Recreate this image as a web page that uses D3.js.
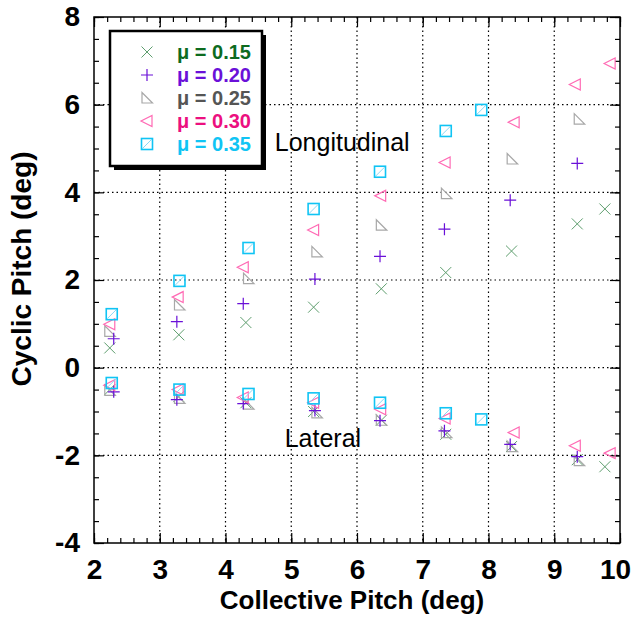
<!DOCTYPE html>
<html>
<head>
<meta charset="utf-8">
<style>
  body { margin: 0; background: #fff; }
  svg { font-family: "Liberation Sans", Arial, sans-serif; }
</style>
</head>
<body>
<div id="container"></div>
<script src="https://cdn.jsdelivr.net/npm/d3@7"></script>
<script>

// advance ratio of each series
var muLabels = ["0.15", "0.20", "0.25", "0.30", "0.35"];

// collective pitch (deg) of each point, per series
var collective15 = [2.24, 3.29, 4.31, 5.34, 6.37, 7.35, 8.35, 9.35, 9.77];
var collective20 = [2.30, 3.26, 4.27, 5.36, 6.35, 7.33, 8.33, 9.35];
var collective25 = [2.24, 3.30, 4.35, 5.39, 6.37, 7.36, 8.36, 9.38];
var collective30 = [2.24, 3.28, 4.27, 5.34, 6.36, 7.34, 8.39, 9.32, 9.85];
var collective35 = [2.27, 3.30, 4.35, 5.34, 6.35, 7.35, 7.89];

// longitudinal cyclic pitch (deg)
var long15 = [0.45, 0.75, 1.03, 1.38, 1.80, 2.17, 2.66, 3.28, 3.62];
var long20 = [0.66, 1.05, 1.46, 2.02, 2.54, 3.16, 3.82, 4.66];
var long25 = [0.83, 1.43, 2.03, 2.64, 3.25, 3.97, 4.76, 5.67];
var long30 = [0.99, 1.61, 2.29, 3.14, 3.92, 4.68, 5.60, 6.46, 6.94];
var long35 = [1.22, 1.98, 2.73, 3.62, 4.47, 5.40, 5.88];

// lateral cyclic pitch (deg)
var lat15 = [-0.50, -0.66, -0.80, -1.00, -1.20, -1.52, -1.80, -2.10, -2.26];
var lat20 = [-0.55, -0.73, -0.82, -0.98, -1.21, -1.44, -1.75, -2.03];
var lat25 = [-0.52, -0.70, -0.83, -1.03, -1.20, -1.48, -1.80, -2.12];
var lat30 = [-0.40, -0.50, -0.68, -0.80, -0.95, -1.16, -1.48, -1.78, -1.95];
var lat35 = [-0.35, -0.50, -0.60, -0.70, -0.80, -1.04, -1.18];

// axis ticks
var xTicks = [2, 3, 4, 5, 6, 7, 8, 9, 10];
var yTicks = [-4, -2, 0, 2, 4, 6, 8];

var series = [
  {mu: muLabels[0], x: collective15, lon: long15, lat: lat15, shape: "cross", stroke: "#5e9e6e", text: "#0d6b1f"},
  {mu: muLabels[2], x: collective25, lon: long25, lat: lat25, shape: "rtri",  stroke: "#a8a8a8", text: "#555555"},
  {mu: muLabels[1], x: collective20, lon: long20, lat: lat20, shape: "plus",  stroke: "#6a10d8", text: "#6a10d8"},
  {mu: muLabels[3], x: collective30, lon: long30, lat: lat30, shape: "ltri",  stroke: "#ff6ab4", text: "#ec0f7f"},
  {mu: muLabels[4], x: collective35, lon: long35, lat: lat35, shape: "square", stroke: "#10c4f4", text: "#10c4f4"}
];
var legendOrder = [0, 2, 1, 3, 4];

var W = 634, H = 617;
var margin = {top: 17, right: 14, bottom: 74, left: 94},
    width = W - margin.left - margin.right,
    height = H - margin.top - margin.bottom;

var svg = d3.select("#container")
  .append("svg")
    .attr("width", W)
    .attr("height", H);

var g = svg.append("g")
    .attr("transform", "translate(" + margin.left + "," + margin.top + ")");

var x = d3.scaleLinear().domain([2, 10]).range([0, width]);
var y = d3.scaleLinear().domain([-4, 8]).range([height, 0]);

// dotted grid
g.append("g")
  .selectAll("line.vg")
  .data(xTicks.slice(1, -1))
  .enter().append("line")
    .attr("x1", function(d) { return x(d); })
    .attr("x2", function(d) { return x(d); })
    .attr("y1", 0).attr("y2", height)
    .attr("stroke", "#000").attr("stroke-width", 1.2)
    .attr("stroke-dasharray", "1.5,3");
g.append("g")
  .selectAll("line.hg")
  .data(yTicks.slice(1, -1))
  .enter().append("line")
    .attr("y1", function(d) { return y(d); })
    .attr("y2", function(d) { return y(d); })
    .attr("x1", 0).attr("x2", width)
    .attr("stroke", "#000").attr("stroke-width", 1.2)
    .attr("stroke-dasharray", "1.5,3");

// minor ticks every 0.2 on x, 0.5 on y
var xMinor = d3.range(2, 10.001, 0.2);
var yMinor = d3.range(-4, 8.001, 0.5);

function styleAxis(sel) {
  sel.select(".domain").remove();
  sel.selectAll(".tick line").attr("stroke", "#000").attr("stroke-width", 1.2);
}

g.append("g").attr("transform", "translate(0," + height + ")")
  .call(d3.axisBottom(x).tickValues(xMinor).tickSize(-5).tickFormat(""))
  .call(styleAxis);
g.append("g")
  .call(d3.axisTop(x).tickValues(xMinor).tickSize(-5).tickFormat(""))
  .call(styleAxis);
g.append("g")
  .call(d3.axisLeft(y).tickValues(yMinor).tickSize(-5).tickFormat(""))
  .call(styleAxis);
g.append("g").attr("transform", "translate(" + width + ",0)")
  .call(d3.axisRight(y).tickValues(yMinor).tickSize(-5).tickFormat(""))
  .call(styleAxis);

// major ticks with labels (plain hyphen minus, like the original)
var plain = function(d) { return String(d); };

var xAxis = g.append("g").attr("transform", "translate(0," + height + ")")
  .call(d3.axisBottom(x).tickValues(xTicks).tickSize(-10).tickPadding(16).tickFormat(plain))
  .call(styleAxis);
xAxis.selectAll("text")
  .attr("font-family", "Liberation Sans, Arial, sans-serif")
  .attr("font-size", 28).attr("font-weight", "bold").attr("fill", "#000")
  .attr("dx", function(d) { return d == 10 ? -5 : 0; });

var yAxis = g.append("g")
  .call(d3.axisLeft(y).tickValues(yTicks).tickSize(-10).tickPadding(14).tickFormat(plain))
  .call(styleAxis);
yAxis.selectAll("text")
  .attr("font-family", "Liberation Sans, Arial, sans-serif")
  .attr("font-size", 28).attr("font-weight", "bold").attr("fill", "#000");

g.append("g")
  .call(d3.axisTop(x).tickValues(xTicks).tickSize(-10).tickFormat(""))
  .call(styleAxis);
g.append("g").attr("transform", "translate(" + width + ",0)")
  .call(d3.axisRight(y).tickValues(yTicks).tickSize(-10).tickFormat(""))
  .call(styleAxis);

// frame
g.append("rect")
  .attr("width", width).attr("height", height)
  .attr("fill", "none").attr("stroke", "#000").attr("stroke-width", 1.5);

// marker drawing
function drawMarker(sel, shape, color) {
  if (shape == "cross") {
    sel.append("path").attr("d", "M-5.5,-5.5L5.5,5.5M-5.5,5.5L5.5,-5.5")
      .attr("stroke", color).attr("stroke-width", 1).attr("fill", "none");
  } else if (shape == "plus") {
    sel.append("path").attr("d", "M-6,0L6,0M0,-6L0,6")
      .attr("stroke", color).attr("stroke-width", 1.2).attr("fill", "none");
  } else if (shape == "rtri") {
    sel.append("path").attr("d", "M-5,-5.5L-5,5L5.5,5Z")
      .attr("stroke", color).attr("stroke-width", 1.2).attr("fill", "none");
  } else if (shape == "ltri") {
    sel.append("path").attr("d", "M-6,0L5,-5.5L5,5.5Z")
      .attr("stroke", color).attr("stroke-width", 1.2).attr("fill", "none");
  } else if (shape == "square") {
    sel.append("path").attr("d", "M-4.5,4.5L4.5,-4.5")
      .attr("stroke", "#8ad8f4").attr("stroke-width", 1).attr("fill", "none");
    sel.append("rect").attr("x", -5.5).attr("y", -5.5).attr("width", 11).attr("height", 11)
      .attr("stroke", color).attr("stroke-width", 1.6).attr("fill", "none");
  }
}

series.forEach(function(s) {
  var pts = [];
  s.x.forEach(function(v, i) {
    if (s.lon[i] != null) pts.push({x: v, y: s.lon[i]});
    if (s.lat[i] != null) pts.push({x: v, y: s.lat[i]});
  });
  g.append("g")
    .selectAll("g")
    .data(pts)
    .enter().append("g")
      .attr("transform", function(d) { return "translate(" + x(d.x) + "," + y(d.y) + ")"; })
      .each(function() { drawMarker(d3.select(this), s.shape, s.stroke); });
});

// annotations
g.append("text")
  .attr("x", x(4.75)).attr("y", y(4.94))
  .attr("font-size", 25).attr("fill", "#000")
  .text("Longitudinal");
g.append("text")
  .attr("x", x(4.9)).attr("y", y(-1.8))
  .attr("font-size", 25).attr("fill", "#000")
  .text("Lateral");

// axis titles
svg.append("text")
  .attr("x", 352)
  .attr("y", 609)
  .attr("text-anchor", "middle")
  .attr("font-size", 26).attr("font-weight", "bold")
  .text("Collective Pitch (deg)");
svg.append("text")
  .attr("transform", "translate(31,269) rotate(-90)")
  .attr("text-anchor", "middle")
  .attr("font-size", 28).attr("font-weight", "bold")
  .text("Cyclic Pitch (deg)");

// legend
var legend = svg.append("g").attr("transform", "translate(110,31)");
legend.append("rect")
  .attr("x", 4).attr("y", 4).attr("width", 152).attr("height", 135)
  .attr("fill", "#000");
legend.append("rect")
  .attr("x", 0).attr("y", 0).attr("width", 152).attr("height", 135)
  .attr("fill", "#fff").attr("stroke", "#000").attr("stroke-width", 2.5);

legendOrder.forEach(function(k, i) {
  var s = series[k];
  var row = legend.append("g").attr("transform", "translate(0," + (21 + i * 23) + ")");
  var m = row.append("g").attr("transform", "translate(37,0)");
  drawMarker(m, s.shape, s.stroke);
  row.append("text")
    .attr("x", 67).attr("y", 7)
    .attr("font-size", 20).attr("font-weight", "bold")
    .attr("fill", s.text)
    .text("\u03bc = " + s.mu);
});

</script>
</body>
</html>
